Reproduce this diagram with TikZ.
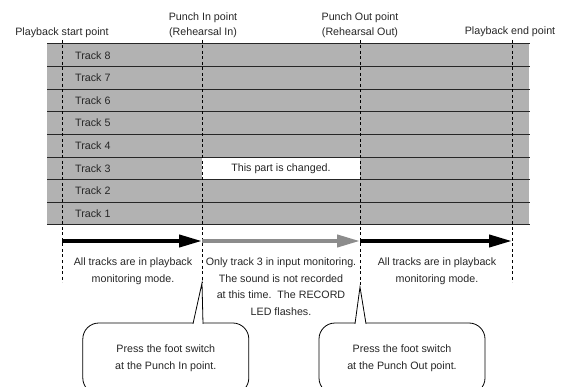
\documentclass[tikz,border=0pt]{standalone}
\usepackage{fontspec}
\setmainfont{Liberation Sans}
\usetikzlibrary{arrows.meta}

\begin{document}
\begin{tikzpicture}[
  x=1pt, y=-1pt,
  font=\fontsize{10.7}{16.6}\selectfont,
  every node/.style={text=black!85},
  ptext/.style={inner sep=0pt, anchor=base},
  marker/.style={black, line width=0.8pt, dash pattern=on 3pt off 2.5pt},
  run/.style={line width=4pt, -{Triangle[length=23pt,width=12pt]}},
  note/.style={align=center, inner sep=0pt, anchor=north},
  bubble/.style={draw, fill=white, line width=0.8pt, rounded corners=16pt, minimum width=166pt, minimum height=71pt, align=center, font=\fontsize{10.7}{17}\selectfont}
]
  \useasboundingbox (0,0) rectangle (567,387);
  \clip (0,0) rectangle (567,387);

  % tracks
  \fill[black!30] (47,44) rectangle (529,225);
  \node[fill=white, minimum width=158pt, minimum height=22.6pt, inner sep=0pt] (chg) at (281,168.4) {This part is changed.};
  \foreach \k in {0,...,8}
    \draw[black!85, line width=1pt] (47,44+22.625*\k) -- (530,44+22.625*\k);
  \foreach \n in {1,...,8}
    \node[anchor=west, inner sep=0pt] (t\n) at (75,236.3-22.625*\n) {Track \n};

  % points
  \node[ptext] (lps) at (62,35.5) {Playback start point};
  \node[ptext] (lpi) at (203,20.5) {Punch In point};
  \node[ptext] (lri) at (203,35.5) {(Rehearsal In)};
  \node[ptext] (lpo) at (360,20.5) {Punch Out point};
  \node[ptext] (lro) at (360,35.5) {(Rehearsal Out)};
  \node[ptext] (lpe) at (510,34.5) {Playback end point};

  \coordinate (ps) at (62,40);  \coordinate (ps') at (62,282);
  \coordinate (pi) at (202,40); \coordinate (tin) at (202,283);
  \coordinate (po) at (360,40); \coordinate (tout) at (360,287);
  \coordinate (pe) at (512,40); \coordinate (pe') at (512,282);
  \draw[marker] (ps) -- (ps');
  \draw[marker] (pi) -- (tin);
  \draw[marker] (po) -- (tout);
  \draw[marker] (pe) -- (pe');

  % modes
  \coordinate (a0) at (62,241);
  \coordinate (a1) at (202,241);
  \coordinate (a2) at (360,241);
  \coordinate (a3) at (512,241);
  \draw[run] (a0) -- (a1);
  \draw[run, black!45] (a1) -- (a2);
  \draw[run] (a2) -- (a3);

  \node[note] (n1) at (133,257.5) {All tracks are in playback\\monitoring mode.};
  \node[note] (n2) at (281,257.5) {Only track 3 in input monitoring.\\The sound is not recorded\\at this time.\ \ The RECORD\\LED flashes.};
  \node[note] (n3) at (437,257.5) {All tracks are in playback\\monitoring mode.};

  % foot switch
  \node[bubble] (bin) at (165.8,358.5) {Press the foot switch\\at the Punch In point.};
  \node[bubble] (bout) at (402,358.5) {Press the foot switch\\at the Punch Out point.};
  \draw[fill=white, line width=0.8pt] (193,323.8) -- (tin) -- (203,323.8);
  \draw[fill=white, line width=0.8pt] (355,323.8) -- (tout) -- (366,323.8);
\end{tikzpicture}
\end{document}
